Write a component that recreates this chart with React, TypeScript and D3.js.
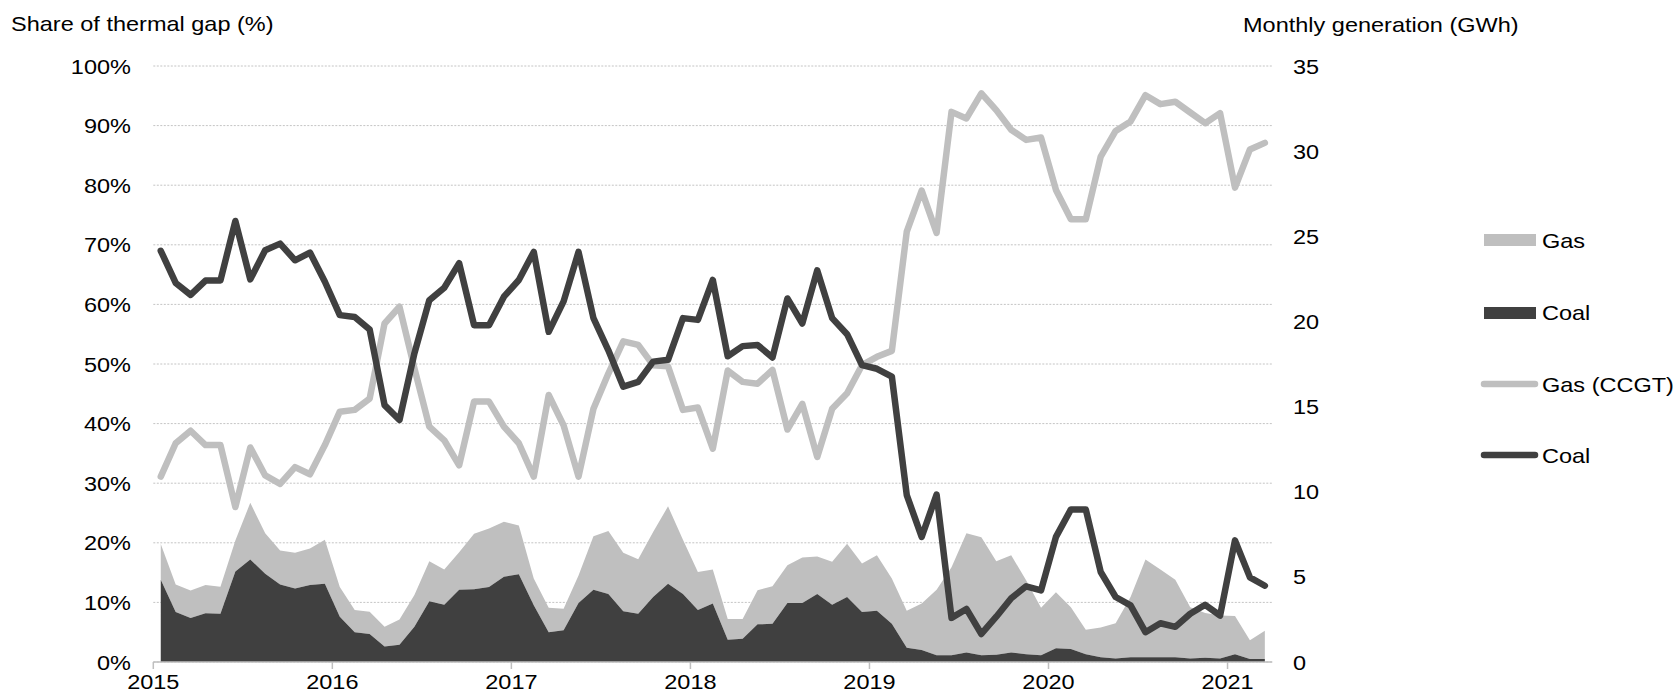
import React from "react";
import * as d3 from "d3";

// ---------- data ----------
const years = ["2015", "2016", "2017", "2018", "2019", "2020", "2021"];
const months: string[] = [];
for (let y = 2015; y <= 2021; y++) {
  for (let m = 1; m <= 12; m++) {
    if (y === 2021 && m > 3) break;
    months.push(`${y}-${String(m).padStart(2, "0")}`);
  }
}

// share of thermal gap (%), left axis
const gasShare = [
  31.1, 36.7, 38.8, 36.4, 36.4, 26.0, 36.0, 31.3, 29.9, 32.7, 31.5, 36.4,
  42.0, 42.3, 44.2, 56.8, 59.6, 49.3, 39.5, 37.2, 33.0, 43.7, 43.7, 39.5,
  36.7, 31.1, 44.8, 39.7, 31.1, 42.5, 48.4, 53.8, 53.2, 49.8, 49.6, 42.3,
  42.7, 35.8, 48.9, 47.0, 46.7, 49.0, 39.0, 43.3, 34.4, 42.5, 45.1, 49.8,
  51.2, 52.2, 72.2, 79.1, 72.0, 92.3, 91.2, 95.4, 92.6, 89.3, 87.6, 88.0,
  79.2, 74.3, 74.3, 84.8, 89.1, 90.7, 95.1, 93.6, 94.0, 92.2, 90.4, 92.1,
  79.6, 86.0, 87.1,
];
const coalShare = [
  69.0, 63.6, 61.6, 64.0, 64.0, 74.0, 64.2, 69.1, 70.2, 67.4, 68.7, 63.8,
  58.2, 57.9, 55.8, 43.1, 40.6, 51.8, 60.7, 62.8, 66.9, 56.5, 56.5, 61.3,
  64.1, 68.8, 55.4, 60.5, 68.8, 57.7, 52.3, 46.2, 47.0, 50.4, 50.7, 57.7,
  57.4, 64.1, 51.3, 53.0, 53.2, 51.1, 61.0, 56.8, 65.7, 57.7, 55.0, 49.8,
  49.2, 47.9, 28.0, 21.0, 28.1, 7.4, 8.9, 4.7, 7.6, 10.7, 12.7, 12.0,
  21.0, 25.6, 25.6, 15.1, 10.9, 9.5, 5.0, 6.5, 5.9, 8.1, 9.6, 7.8,
  20.4, 14.2, 12.8,
];
// monthly generation (GWh), right axis, stacked areas
const coalGen = [
  4.83, 2.94, 2.59, 2.87, 2.84, 5.32, 6.02, 5.18, 4.55, 4.31, 4.52, 4.59,
  2.66, 1.75, 1.65, 0.91, 1.02, 2.07, 3.57, 3.36, 4.24, 4.27, 4.41, 5.01,
  5.15, 3.33, 1.75, 1.86, 3.47, 4.24, 3.99, 2.98, 2.84, 3.82, 4.59, 3.99,
  3.05, 3.43, 1.3, 1.37, 2.21, 2.24, 3.47, 3.47, 3.99, 3.36, 3.82, 2.94,
  3.01, 2.24, 0.84, 0.7, 0.39, 0.39, 0.56, 0.39, 0.42, 0.56, 0.46, 0.39,
  0.81, 0.77, 0.46, 0.28, 0.21, 0.28, 0.28, 0.28, 0.28, 0.21, 0.25, 0.21,
  0.46, 0.18, 0.18,
];
const gasGen = [
  2.1, 1.61, 1.61, 1.65, 1.58, 1.82, 3.33, 2.38, 2.0, 2.1, 2.14, 2.59,
  1.75, 1.3, 1.3, 1.16, 1.47, 1.86, 2.35, 2.07, 2.21, 3.26, 3.43, 3.22,
  2.87, 1.58, 1.44, 1.26, 1.61, 3.15, 3.71, 3.43, 3.19, 3.82, 4.55, 3.19,
  2.24, 2.0, 1.23, 1.16, 2.0, 2.21, 2.21, 2.66, 2.21, 2.52, 3.12, 2.84,
  3.26, 2.66, 2.17, 2.73, 3.85, 5.18, 7.0, 6.93, 5.5, 5.71, 4.34, 2.8,
  3.29, 2.45, 1.44, 1.75, 2.07, 3.54, 5.74, 5.15, 4.55, 3.01, 2.63, 2.52,
  2.24, 1.09, 1.65,
];

const leftTicks = [0, 10, 20, 30, 40, 50, 60, 70, 80, 90, 100];
const rightTicks = [0, 5, 10, 15, 20, 25, 30, 35];

const LIGHT = "#bfbfbf";
const DARK = "#404040";
const FONT = "'Liberation Sans', Arial, Helvetica, sans-serif";
const FS = 21;
const SX = 1.12;

function T(props: {
  x: number;
  y: number;
  anchor?: string;
  children: React.ReactNode;
}) {
  return (
    <text
      transform={`translate(${props.x},${props.y}) scale(${SX},1)`}
      textAnchor={props.anchor || "start"}
      fontFamily={FONT}
      fontSize={FS}
      fill="#000"
    >
      {props.children}
    </text>
  );
}

export default function App() {
  const W = 1677;
  const H = 700;
  const left = 153.3;
  const right = 1272.3;
  const top = 66;
  const bottom = 662;

  const x = d3.scaleBand<string>().domain(months).range([left, right]).padding(0);
  const cx = (m: string) => (x(m) as number) + x.bandwidth() / 2;
  const yL = d3.scaleLinear().domain([0, 100]).range([bottom, top]);
  const yR = d3.scaleLinear().domain([0, 35]).range([bottom, top]);

  const rows = months.map((m, i) => ({ m, coal: coalGen[i], gas: gasGen[i] }));
  const stack = d3.stack<any>().keys(["coal", "gas"])(rows);
  const area = d3
    .area<any>()
    .x((d) => cx(d.data.m))
    .y0((d) => yR(d[0]))
    .y1((d) => yR(d[1]));

  const line = d3
    .line<number>()
    .x((_, i) => cx(months[i]))
    .y((d) => yL(d));

  const yearX = (yr: string) => x(`${yr}-01`) as number;

  return (
    <svg
      width={W}
      height={H}
      style={{ position: "absolute", left: 0, top: 0, display: "block", background: "#fff" }}
    >
      {/* gridlines */}
      {leftTicks.map((t) => (
        <line
          key={t}
          x1={left}
          x2={right}
          y1={yL(t)}
          y2={yL(t)}
          stroke="#c4c4c4"
          strokeWidth={1}
          strokeDasharray="2,1.5"
        />
      ))}
      {/* areas */}
      <path d={area(stack[1]) as string} fill={LIGHT} />
      <path d={area(stack[0]) as string} fill={DARK} />
      {/* x axis */}
      <line x1={left} x2={right} y1={bottom} y2={bottom} stroke="#bfbfbf" strokeWidth={1.5} />
      {years.map((yr) => (
        <line
          key={yr}
          x1={yearX(yr)}
          x2={yearX(yr)}
          y1={bottom}
          y2={bottom + 7}
          stroke="#bfbfbf"
          strokeWidth={1.5}
        />
      ))}
      {/* lines */}
      <path
        d={line(gasShare) as string}
        fill="none"
        stroke={LIGHT}
        strokeWidth={6.5}
        strokeLinejoin="round"
        strokeLinecap="round"
      />
      <path
        d={line(coalShare) as string}
        fill="none"
        stroke={DARK}
        strokeWidth={6.5}
        strokeLinejoin="round"
        strokeLinecap="round"
      />
      {/* left tick labels */}
      {leftTicks.map((t) => (
        <T key={t} x={131} y={yL(t) + 7.5} anchor="end">
          {`${t}%`}
        </T>
      ))}
      {/* right tick labels */}
      {rightTicks.map((t) => (
        <T key={t} x={1293} y={yR(t) + 7.5}>
          {`${t}`}
        </T>
      ))}
      {/* x labels */}
      {years.map((yr) => (
        <T key={yr} x={yearX(yr)} y={689} anchor="middle">
          {yr}
        </T>
      ))}
      {/* titles */}
      <T x={11} y={31}>Share of thermal gap (%)</T>
      <T x={1243} y={32}>Monthly generation (GWh)</T>
      {/* legend */}
      <rect x={1484} y={234} width={52} height={12} fill={LIGHT} />
      <T x={1542} y={248}>Gas</T>
      <rect x={1484} y={307} width={52} height={12} fill={DARK} />
      <T x={1542} y={320}>Coal</T>
      <line x1={1484} x2={1535} y1={384} y2={384} stroke={LIGHT} strokeWidth={6.5} strokeLinecap="round" />
      <T x={1542} y={392}>Gas (CCGT)</T>
      <line x1={1484} x2={1535} y1={455} y2={455} stroke={DARK} strokeWidth={6.5} strokeLinecap="round" />
      <T x={1542} y={463}>Coal</T>
    </svg>
  );
}
